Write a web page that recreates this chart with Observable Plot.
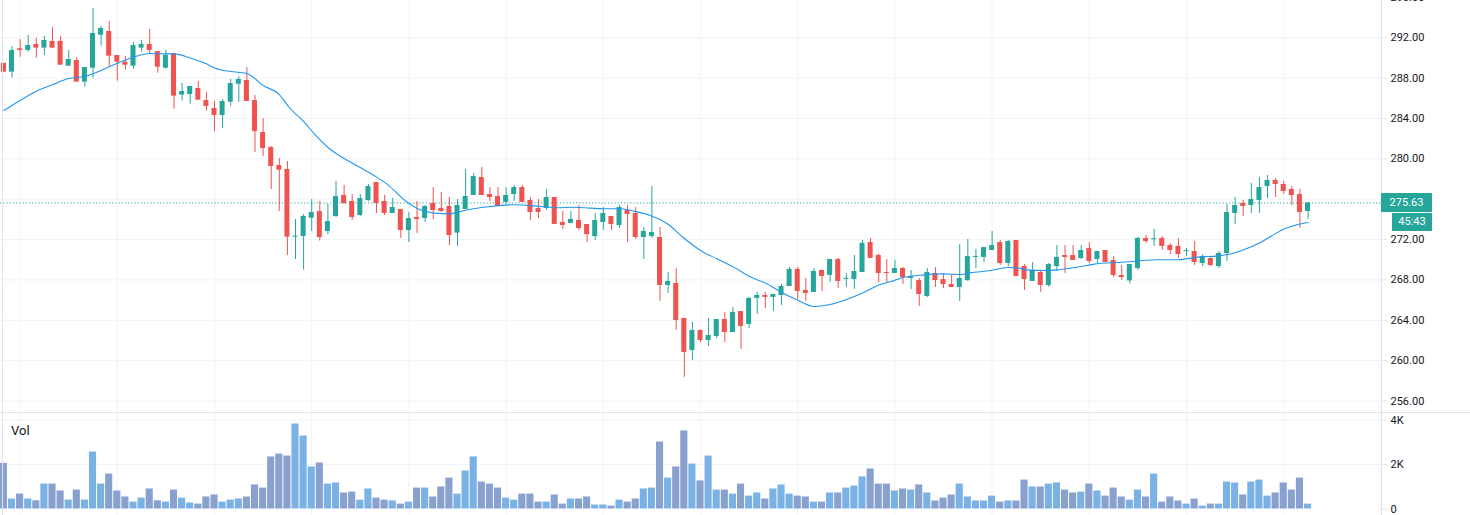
<!DOCTYPE html>
<html><head><meta charset="utf-8">
<script src="https://cdn.jsdelivr.net/npm/d3@7"></script>
<script src="https://cdn.jsdelivr.net/npm/@observablehq/plot@0.6"></script>
<style>
html,body{margin:0;padding:0;background:#fff;overflow:hidden;}
#wrap{position:relative;width:1470px;height:515px;font-family:Roboto,"Liberation Sans",sans-serif;overflow:hidden;}
.abs{position:absolute;}
#sep{left:0;width:1470px;height:1px;background:#e0e3eb;}
.lbl{color:#131722;font-size:13px;line-height:13px;}
.box{color:#fff;background:#26a69a;font-size:11px;text-align:center;}
</style></head><body><div id="wrap"></div>
<script>
const open = [
289.46,288.6,290.91,290.74,291.34,290.98,291.64,291.64,289.19,289.75,
287.61,288.99,292.26,292.63,290.25,289.59,289.19,290.98,291.34,290.64,
288.99,290.45,286.32,286.38,286.98,285.79,285.0,284.3,285.62,287.4,
287.77,285.78,282.61,281.13,279.34,278.95,272.24,272.31,274.12,274.78,
272.8,274.29,276.37,275.78,274.39,275.87,277.66,275.78,274.59,274.98,
272.9,274.19,274.09,275.58,275.08,275.28,272.64,274.98,276.37,278.15,
276.47,276.27,275.68,276.47,277.16,275.88,275.08,275.08,276.17,273.7,
273.6,273.9,273.5,272.3,273.7,274.29,273.4,274.88,274.59,272.21,
272.31,272.21,267.45,267.65,264.18,261.01,262.99,262.0,262.4,264.08,
262.79,264.87,263.59,266.17,266.46,266.27,266.46,267.35,269.04,266.96,
266.76,268.94,268.45,270.03,268.05,268.05,268.74,271.71,270.43,268.74,
268.64,269.13,268.14,267.94,266.36,268.64,268.04,267.55,267.25,267.94,
270.23,270.23,270.92,271.71,269.63,271.91,269.33,267.85,268.74,267.45,
269.33,270.42,270.42,270.12,271.11,270.02,270.92,269.93,268.44,267.9,
269.14,272.11,271.98,272.11,271.42,271.32,270.8,270.82,269.63,270.13,
269.33,270.62,274.59,275.58,275.38,275.88,277.26,277.86,277.46,276.97,
276.47,274.79];
const high = [
289.5,291.14,291.83,292.23,291.97,292.13,293.02,292.13,290.74,290.05,
289.06,294.91,293.12,293.62,290.25,290.15,291.54,291.74,292.83,290.64,
290.74,290.45,287.48,287.18,287.67,286.58,285.69,285.89,287.87,288.16,
289.06,286.28,284.0,281.23,280.04,279.74,273.99,274.49,275.97,275.78,
275.48,277.76,277.36,276.47,276.47,277.46,277.66,276.37,276.07,274.98,
274.69,275.78,275.38,277.16,276.67,276.17,275.97,278.95,278.55,279.15,
277.16,277.16,277.16,277.36,277.36,276.17,275.97,276.97,276.17,274.79,
274.79,275.38,273.5,274.59,275.18,274.29,275.38,275.38,275.18,273.2,
277.26,273.2,268.74,269.14,264.18,263.79,263.09,264.18,264.08,264.77,
265.27,264.87,266.27,266.76,266.76,266.56,267.55,269.24,269.24,268.15,
269.14,268.94,270.03,270.13,268.64,270.43,271.91,272.11,270.53,270.02,
269.93,269.23,268.93,268.14,269.13,269.23,268.54,268.44,271.51,272.01,
271.02,271.21,272.8,271.91,271.91,271.91,269.53,269.73,268.84,269.63,
271.41,271.41,271.41,271.41,271.71,270.82,270.92,270.33,269.43,269.53,
272.21,272.41,273.0,272.31,271.61,272.11,271.12,271.81,270.52,270.33,
270.82,275.48,276.17,275.88,277.56,278.15,278.35,278.06,277.76,277.26,
276.97,275.68];
const low = [
288.55,288.0,290.08,290.58,289.98,290.25,290.98,289.29,289.19,287.61,
287.11,288.0,291.17,289.09,287.71,288.8,288.9,290.58,290.41,288.5,
288.9,284.93,285.73,285.43,285.82,284.73,282.72,283.0,285.22,285.62,
285.69,280.63,280.24,276.96,274.78,270.42,270.03,268.97,272.8,271.84,
272.5,274.19,275.48,273.89,274.29,275.78,274.59,274.39,274.59,272.11,
271.71,272.6,273.69,273.99,274.69,271.41,271.32,274.98,276.37,276.37,
275.78,275.28,275.48,275.78,275.68,273.89,274.09,274.88,273.5,273.0,
273.6,272.9,271.71,271.91,272.9,272.9,273.1,271.71,272.01,270.03,
272.11,265.87,266.66,262.99,258.34,260.02,261.8,261.41,262.2,261.8,
262.79,261.11,263.19,264.58,265.17,264.88,265.47,267.35,266.07,265.87,
266.76,266.86,267.75,267.16,267.26,267.06,268.74,270.13,267.75,267.74,
268.64,267.55,267.05,265.37,266.26,267.25,267.15,267.25,265.86,267.85,
269.13,269.73,270.92,269.43,269.33,268.34,266.95,267.85,266.76,267.25,
268.84,268.64,269.93,270.02,269.63,269.63,269.73,268.24,267.95,267.6,
268.94,271.61,271.32,270.92,270.52,270.13,270.33,269.43,269.33,269.33,
269.14,269.83,273.5,274.29,274.59,274.59,276.07,276.17,276.47,275.38,
273.1,274.0];
const close = [
288.6,290.74,290.74,291.24,290.98,291.74,290.98,289.29,289.85,287.61,
289.06,292.43,292.93,290.18,289.59,289.29,291.24,291.34,290.74,289.09,
290.25,286.22,286.68,287.18,285.82,285.2,284.3,285.69,287.47,287.87,
285.69,282.71,281.03,279.24,278.88,272.24,272.31,274.29,274.69,272.21,
273.79,276.27,275.58,274.19,276.07,277.26,275.58,274.59,275.18,272.9,
274.09,273.99,275.28,274.88,274.78,272.4,275.38,276.27,278.25,276.37,
276.17,275.28,276.37,277.16,275.68,274.69,274.69,276.17,273.5,273.4,
274.0,273.1,272.5,273.9,274.59,273.5,275.18,274.49,272.21,272.8,
272.7,267.45,267.85,263.98,260.81,262.99,262.0,262.5,264.08,262.79,
264.77,263.39,266.17,266.46,266.27,266.56,267.35,269.04,266.86,266.66,
268.84,268.35,270.03,267.85,268.15,268.84,271.62,270.13,268.64,268.64,
269.13,268.24,268.34,266.56,268.74,267.94,267.55,267.25,268.14,270.32,
270.32,271.21,271.41,269.63,271.81,268.34,268.04,268.93,267.45,269.53,
270.23,270.23,269.93,270.92,269.83,270.82,269.73,268.44,268.24,269.53,
272.11,271.81,272.01,271.32,270.92,270.52,270.82,269.73,270.33,269.43,
270.62,274.69,275.38,275.28,275.97,277.16,277.86,277.46,276.77,276.37,
274.69,275.63];
const volume = [
2050,450,670,450,370,1120,1120,810,400,850,
400,2560,1120,1570,810,540,310,490,900,370,
310,850,490,270,220,540,630,310,400,450,
540,1080,940,2340,2470,2380,3820,3280,1890,2070,
1120,1170,720,760,400,900,490,400,360,220,
310,940,940,540,990,1390,670,1710,2340,1210,
1120,940,490,400,670,670,310,310,630,220,
450,450,540,180,180,130,400,310,450,900,
940,3010,1390,1890,3510,2020,1260,2380,850,850,
670,1120,580,720,450,900,1080,670,580,540,
310,310,720,720,940,1030,1440,1800,1120,1120,
810,900,850,1080,720,360,490,630,1120,540,
360,360,580,310,360,360,1300,990,990,1120,
1170,850,720,760,1120,810,580,940,540,400,
850,540,1570,310,540,360,220,450,130,220,
220,1210,1170,630,1210,1300,580,720,1170,850,
1390,220];
const maIndex = [0,2,4,6,8,10,12,14,16,18,20,21,23,25,26,28,29.9,30.9,31.9,34,35.2,36.9,38.5,40.2,41.6,43.2,45.7,47.3,49.8,51.4,53.1,55.1,56,58,60.1,63,66.3,68.3,70.4,72.4,74.5,76.1,77.8,79.8,81.9,83.9,86,88,90.1,92.2,94.2,96.3,97.9,100,102,103.7,105.8,108.2,109.5,111.1,113.6,116,118.1,119.3,121.8,123.9,125.1,126.3,128.4,130,131.7,133.7,135.4,136.7,139.2,142.4,144.9,147.4,149.9,151.1,152.8,154.8,156.4,158.1,159.3,161];
const maValue = [284.79,285.79,286.71,287.34,287.97,288.16,288.76,289.49,290.08,290.44,290.41,290.41,290.01,289.42,289.02,288.66,288.49,288.03,287.34,286.38,285.12,283.8,282.32,281.0,280.23,279.5,278.35,277.5,275.7,274.95,274.62,274.55,274.72,275.05,275.28,275.45,275.28,275.15,275.21,275.12,275.05,275.05,274.82,274.39,273.57,272.18,270.92,270.1,269.27,268.28,267.62,266.63,266.03,265.37,265.57,265.97,266.63,267.55,267.84,268.27,268.5,268.6,268.54,268.7,268.93,269.23,269.2,269.0,268.93,269.0,269.17,269.43,269.66,269.7,269.83,270.0,270.0,270.26,270.39,270.52,270.92,271.58,272.31,273.07,273.4,273.7];
const priceGrid = [256,260,264,268,272,276,280,284,288,292,296];
const priceTicks = [256,260,264,268,272,280,284,288,292,296];
const volumeTicks = [0,2000,4000];
const timeGrid = [2,14,26,38,50,62,74,86,98,110,122,134,146,158,170];
const lastPrice = 275.63;
const countdown = "45:43";
const maLabel = "MA";
const volLabel = "Vol";

const UP = "#26a69a", DOWN = "#ef5350", VUP = "#7ab2e6", VDOWN = "#88a1ce";
const GRID = "#f0f3fa", BORDER = "#e0e3eb", TEXT = "#131722";
const candles = close.map((c, i) => ({i, open: open[i], high: high[i], low: low[i], close: c, volume: volume[i], up: c >= open[i]}));
const ma = maIndex.map((x, k) => ({x, y: maValue[k]}));
const xDomain = [-0.42, 170.07];
const W = 1470, MR = 89;
const fmtVol = d => d === 0 ? "0" : (d / 1000) + "K";

const price = Plot.plot({
  width: W, height: 412, marginLeft: 0, marginRight: MR, marginTop: 0, marginBottom: 0,
  x: {type: "linear", domain: xDomain, axis: null},
  y: {domain: [254.86, 295.70]},
  color: {type: "identity"},
  style: {background: "transparent", overflow: "visible", fontFamily: "Roboto, 'Liberation Sans', sans-serif", fontSize: "11px", color: TEXT},
  marks: [
    Plot.ruleY(priceGrid, {stroke: GRID}),
    Plot.ruleX(timeGrid, {stroke: GRID}),
    Plot.ruleY([lastPrice], {stroke: UP, strokeDasharray: "1.2,2"}),
    Plot.ruleX(candles, {x: "i", y1: "low", y2: "high", stroke: d => d.up ? UP : DOWN, strokeWidth: 1}),
    Plot.rect(candles, {
      x1: d => d.i - 0.31, x2: d => d.i + 0.31,
      y1: "open",
      y2: d => Math.abs(d.close - d.open) < 0.1 ? d.open + (d.up ? 0.1 : -0.1) : d.close,
      fill: d => d.up ? UP : DOWN
    }),
    Plot.line(ma, {x: "x", y: "y", stroke: "#2196f3", strokeWidth: 1.1, curve: "monotone-x"}),
    Plot.ruleX([xDomain[1]], {stroke: BORDER}),
    Plot.axisY(priceTicks, {anchor: "right", tickSize: 5, tickPadding: 4, tickFormat: d => d.toFixed(2), stroke: BORDER, fill: TEXT, label: null})
  ]
});

const vol = Plot.plot({
  width: W, height: 102, marginLeft: 0, marginRight: MR, marginTop: 6.5, marginBottom: 6.5,
  x: {type: "linear", domain: xDomain, axis: null},
  y: {domain: [0, 4000]},
  color: {type: "identity"},
  style: {background: "transparent", overflow: "visible", fontFamily: "Roboto, 'Liberation Sans', sans-serif", fontSize: "11px", color: TEXT},
  marks: [
    Plot.ruleY([2000, 4000], {stroke: GRID}),
    Plot.ruleX(timeGrid, {stroke: GRID, insetTop: -6.5, insetBottom: -6.5}),
    Plot.rect(candles, {x1: d => d.i - 0.44, x2: d => d.i + 0.44, y1: 0, y2: "volume", fill: d => d.up ? VUP : VDOWN}),
    Plot.ruleX([xDomain[1]], {stroke: BORDER, insetTop: -6.5, insetBottom: -6.5}),
    Plot.axisY(volumeTicks, {anchor: "right", tickSize: 5, tickPadding: 4, tickFormat: fmtVol, stroke: BORDER, fill: TEXT, label: null})
  ]
});

const wrap = document.getElementById("wrap");
const top1 = document.createElement("div"); top1.className = "abs"; top1.style.top = "0px"; top1.style.left = "0px";
top1.appendChild(price); wrap.appendChild(top1);
const sep = document.createElement("div"); sep.className = "abs"; sep.id = "sep"; sep.style.top = "412px"; wrap.appendChild(sep);
const top2 = document.createElement("div"); top2.className = "abs"; top2.style.top = "413px"; top2.style.left = "0px";
top2.appendChild(vol); wrap.appendChild(top2);

const leftBorder = document.createElement("div"); leftBorder.className = "abs";
Object.assign(leftBorder.style, {left: "2px", top: "0px", width: "1px", height: "515px", background: BORDER});
wrap.appendChild(leftBorder);

const ys = price.scale("y"), xs = price.scale("x");
const yLast = ys.apply(lastPrice);
const axisX = xs.apply(xDomain[1]);

const pbox = document.createElement("div"); pbox.className = "abs box"; pbox.textContent = lastPrice.toFixed(2);
Object.assign(pbox.style, {left: axisX + "px", top: (yLast - 9.5) + "px", width: "51px", height: "19px", lineHeight: "19px"});
wrap.appendChild(pbox);
const cbox = document.createElement("div"); cbox.className = "abs box"; cbox.textContent = countdown;
Object.assign(cbox.style, {left: (axisX + 11) + "px", top: (yLast + 10.5) + "px", width: "40px", height: "18px", lineHeight: "18px"});
wrap.appendChild(cbox);

const maL = document.createElement("div"); maL.className = "abs lbl"; maL.textContent = maLabel;
Object.assign(maL.style, {left: "12px", top: "-11px"});
wrap.appendChild(maL);
const vL = document.createElement("div"); vL.className = "abs lbl"; vL.textContent = volLabel;
Object.assign(vL.style, {left: "11px", top: "424px"});
wrap.appendChild(vL);
</script>
</body></html>
